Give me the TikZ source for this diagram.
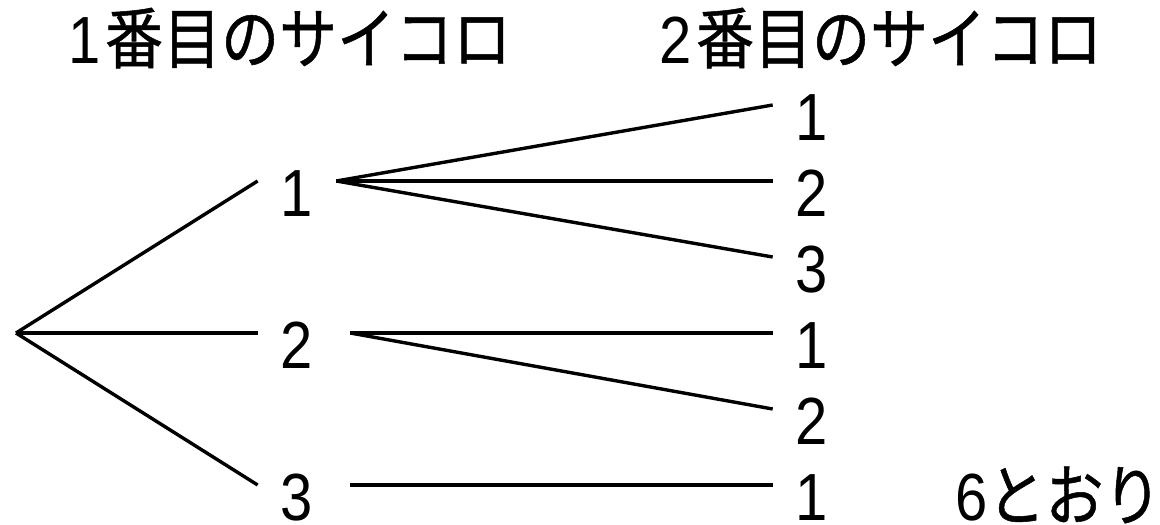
\documentclass[tikz,border=0pt]{standalone}
\usepackage{graphicx}
\usepackage{fontspec}
\setmainfont{Liberation Sans}
\newfontfamily\jpfont[FakeBold=0.8]{Noto Sans CJK JP}
\newcommand{\tallText}[1]{\scalebox{1}[1.15]{#1}}
\begin{document}
\begin{tikzpicture}[x=1pt,y=-1pt,
  lbl/.style={inner sep=0pt, font=\fontsize{58}{60}\selectfont},
  num/.style={lbl, inner xsep=23pt, text height=70pt, text depth=0pt, anchor=base},
  branch/.style={line width=3.4pt}]
\useasboundingbox[fill=white] (0,0) rectangle (1160,525);
% headers
\node[lbl, anchor=base] (h1) at (290,63) {\tallText{1\kern4pt\jpfont 番目のサイコロ}};
\node[lbl, anchor=base] (h2) at (881,63) {\tallText{2\kern4pt\jpfont 番目のサイコロ}};
% root
\coordinate (r) at (16,333);
% first die
\node[num] (a1) at (297,216) {\tallText{1}};
\node[num] (a2) at (297,368) {\tallText{2}};
\node[num] (a3) at (297,520) {\tallText{3}};
% second die
\node[num] (b1) at (812,140) {\tallText{1}};
\node[num] (b2) at (812,216) {\tallText{2}};
\node[num] (b3) at (812,292) {\tallText{3}};
\node[num] (b4) at (812,368) {\tallText{1}};
\node[num] (b5) at (812,444) {\tallText{2}};
\node[num] (b6) at (812,520) {\tallText{1}};
% total
\node[lbl, anchor=base west] (t) at (955,520) {\tallText{6\jpfont とおり}};
% connectors
\draw[branch] (r) -- (a1.west);
\draw[branch] (r) -- (a2.west);
\draw[branch] (r) -- (a3.west);
\draw[branch] (a1.east) -- (b1.west);
\draw[branch] (a1.east) -- (b2.west);
\draw[branch] (a1.east) -- (b3.west);
\draw[branch] ([xshift=14pt]a2.east) -- (b4.west);
\draw[branch] ([xshift=14pt]a2.east) -- (b5.west);
\draw[branch] ([xshift=14pt]a3.east) -- (b6.west);
\end{tikzpicture}
\end{document}
